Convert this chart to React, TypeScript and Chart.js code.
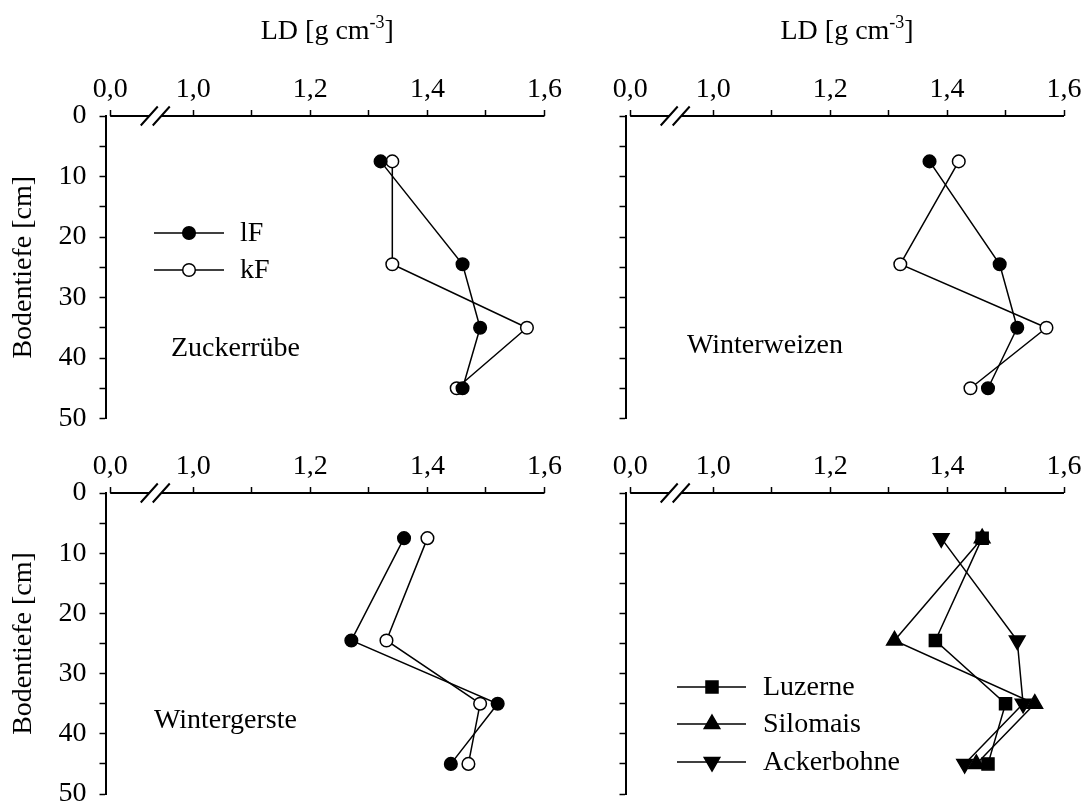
import React, { useEffect, useRef } from 'react';
import { Chart, registerables } from 'chart.js';

Chart.register(...registerables);

const PAGE_W = 1090;
const PAGE_H = 805;
const FONT = '"Liberation Serif", "Times New Roman", serif';
const FONT_SIZE = 28;
const SUP_SIZE = 18;

// Sampling depths (cm)
const DEPTHS = [7.5, 24.5, 35, 45];

// Lagerungsdichte LD [g cm-3] per depth
const ZUCKERRUEBE_LF = [1.32, 1.46, 1.49, 1.46];
const ZUCKERRUEBE_KF = [1.34, 1.34, 1.57, 1.45];
const WINTERWEIZEN_LF = [1.37, 1.49, 1.52, 1.47];
const WINTERWEIZEN_KF = [1.42, 1.32, 1.57, 1.44];
const WINTERGERSTE_LF = [1.36, 1.27, 1.52, 1.44];
const WINTERGERSTE_KF = [1.4, 1.33, 1.49, 1.47];
const LUZERNE = [1.46, 1.38, 1.5, 1.47];
const SILOMAIS = [1.46, 1.31, 1.55, 1.45];
const ACKERBOHNE = [1.39, 1.52, 1.53, 1.43];

// Broken LD axis: the "0,0" tick sits in a slot left of the break, 1.0–1.6 is to scale
const X_ZERO_SLOT = 0.858;
const X_BREAK = 0.935;
const X_MIN = 0.85;
const X_MAX = 1.6;
const X_TICKS = [X_ZERO_SLOT, 1.0, 1.1, 1.2, 1.3, 1.4, 1.5, 1.6];
const Y_MIN = 0;
const Y_MAX = 50;
const Y_TICKS = [0, 5, 10, 15, 20, 25, 30, 35, 40, 45, 50];

const AXIS_W = 60;
const AXIS_H = 45;

type MarkerStyle = 'circle' | 'rect' | 'triangle' | 'triangleDown';

interface Series {
  label: string;
  values: number[];
  style: MarkerStyle;
  fill: string;
  radius: number;
}

interface PanelDef {
  area: { left: number; top: number; right: number; bottom: number };
  xTitle: boolean;
  yTitle: boolean;
  yLabels: boolean;
  name: { text: string; x: number; y: number };
  legend: { x0: number; x1: number; mx: number; tx: number; rows: number[] } | null;
  series: Series[];
}

const lF = (values: number[]): Series => ({ label: 'lF', values, style: 'circle', fill: '#000', radius: 6.3 });
const kF = (values: number[]): Series => ({ label: 'kF', values, style: 'circle', fill: '#fff', radius: 6.3 });

const PANELS: PanelDef[] = [
  {
    area: { left: 105.5, top: 116, right: 544.5, bottom: 418.5 },
    xTitle: true,
    yTitle: true,
    yLabels: true,
    name: { text: 'Zuckerrübe', x: 171, y: 356 },
    legend: { x0: 154, x1: 224, mx: 189, tx: 240, rows: [233, 270] },
    series: [lF(ZUCKERRUEBE_LF), kF(ZUCKERRUEBE_KF)],
  },
  {
    area: { left: 625.5, top: 116, right: 1064, bottom: 418.5 },
    xTitle: true,
    yTitle: false,
    yLabels: false,
    name: { text: 'Winterweizen', x: 687, y: 353 },
    legend: null,
    series: [lF(WINTERWEIZEN_LF), kF(WINTERWEIZEN_KF)],
  },
  {
    area: { left: 105.5, top: 493, right: 544.5, bottom: 794 },
    xTitle: false,
    yTitle: true,
    yLabels: true,
    name: { text: 'Wintergerste', x: 154, y: 728 },
    legend: null,
    series: [lF(WINTERGERSTE_LF), kF(WINTERGERSTE_KF)],
  },
  {
    area: { left: 625.5, top: 493, right: 1064, bottom: 794 },
    xTitle: false,
    yTitle: false,
    yLabels: false,
    name: { text: '', x: 0, y: 0 },
    legend: { x0: 677, x1: 746, mx: 712, tx: 763, rows: [687, 724, 762] },
    series: [
      { label: 'Luzerne', values: LUZERNE, style: 'rect', fill: '#000', radius: 8.5 },
      { label: 'Silomais', values: SILOMAIS, style: 'triangle', fill: '#000', radius: 9 },
      { label: 'Ackerbohne', values: ACKERBOHNE, style: 'triangleDown', fill: '#000', radius: 9 },
    ],
  },
];

function drawMarker(ctx: CanvasRenderingContext2D, style: MarkerStyle, x: number, y: number, r: number, fill: string) {
  ctx.beginPath();
  if (style === 'circle') {
    ctx.arc(x, y, r, 0, Math.PI * 2);
  } else if (style === 'rect') {
    const s = r * Math.SQRT1_2;
    ctx.rect(x - s, y - s, 2 * s, 2 * s);
  } else {
    const d = style === 'triangle' ? 1 : -1;
    ctx.moveTo(x, y - d * r);
    ctx.lineTo(x + 0.866 * r, y + d * 0.5 * r);
    ctx.lineTo(x - 0.866 * r, y + d * 0.5 * r);
    ctx.closePath();
  }
  ctx.fillStyle = fill;
  ctx.fill();
  ctx.lineWidth = 1.5;
  ctx.strokeStyle = '#000';
  ctx.stroke();
}

const panelDecor = {
  id: 'panelDecor',
  afterDraw(chart: any, _args: any, opts: any) {
    const def: PanelDef = opts.def;
    const { ctx } = chart;
    const xs = chart.scales.x;
    const ys = chart.scales.y;
    const axisY = ys.getPixelForValue(Y_MIN);
    const xStart = xs.getPixelForValue(X_ZERO_SLOT);
    const xEnd = xs.getPixelForValue(X_MAX);
    const xb = xs.getPixelForValue(X_BREAK);
    const gap = 6;

    ctx.save();
    // LD axis line with break
    ctx.strokeStyle = '#000';
    ctx.lineWidth = 2;
    ctx.beginPath();
    ctx.moveTo(xStart, axisY);
    ctx.lineTo(xb - gap, axisY);
    ctx.moveTo(xb + gap, axisY);
    ctx.lineTo(xEnd, axisY);
    ctx.stroke();
    ctx.beginPath();
    for (const dx of [-gap, gap]) {
      ctx.moveTo(xb + dx - 8.5, axisY + 9.5);
      ctx.lineTo(xb + dx + 8.5, axisY - 9.5);
    }
    ctx.stroke();

    ctx.fillStyle = '#000';
    const big = `${FONT_SIZE}px ${FONT}`;
    const small = `${SUP_SIZE}px ${FONT}`;

    // Axis title "LD [g cm-3]"
    if (def.xTitle) {
      const a = 'LD [g cm';
      const sup = '-3';
      const b = ']';
      ctx.font = big;
      const wa = ctx.measureText(a).width;
      const wb = ctx.measureText(b).width;
      ctx.font = small;
      const ws = ctx.measureText(sup).width;
      let x = (xStart + xEnd) / 2 - (wa + ws + wb) / 2;
      const base = 39;
      ctx.textAlign = 'left';
      ctx.textBaseline = 'alphabetic';
      ctx.font = big;
      ctx.fillText(a, x, base);
      x += wa;
      ctx.font = small;
      ctx.fillText(sup, x, base - 11);
      x += ws;
      ctx.font = big;
      ctx.fillText(b, x, base);
    }

    // Depth axis title
    if (def.yTitle) {
      const top = ys.getPixelForValue(Y_MIN);
      const bottom = ys.getPixelForValue(Y_MAX);
      ctx.save();
      ctx.translate(24, (top + bottom) / 2);
      ctx.rotate(-Math.PI / 2);
      ctx.font = big;
      ctx.textAlign = 'center';
      ctx.textBaseline = 'middle';
      ctx.fillText('Bodentiefe [cm]', 0, 0);
      ctx.restore();
    }

    // Crop name
    if (def.name.text) {
      ctx.font = big;
      ctx.textAlign = 'left';
      ctx.textBaseline = 'alphabetic';
      ctx.fillText(def.name.text, def.name.x, def.name.y);
    }

    // Legend
    if (def.legend) {
      const lg = def.legend;
      def.series.forEach((s, i) => {
        const y = lg.rows[i];
        ctx.beginPath();
        ctx.lineWidth = 1.5;
        ctx.strokeStyle = '#000';
        ctx.moveTo(lg.x0, y);
        ctx.lineTo(lg.x1, y);
        ctx.stroke();
        drawMarker(ctx, s.style, lg.mx, y, s.radius, s.fill);
        ctx.fillStyle = '#000';
        ctx.font = big;
        ctx.textAlign = 'left';
        ctx.textBaseline = 'middle';
        ctx.fillText(s.label, lg.tx, y + 1);
      });
    }
    ctx.restore();
  },
};

function xLabel(v: number): string {
  if (v === X_ZERO_SLOT) return '0,0';
  const tenths = Math.round(v * 10);
  return tenths % 2 === 0 ? (tenths / 10).toFixed(1).replace('.', ',') : '';
}

function buildConfig(def: PanelDef): any {
  const datasets = def.series.map((s) => ({
    label: s.label,
    data: s.values.map((v, i) => ({ x: v, y: DEPTHS[i] })),
    showLine: true,
    borderColor: '#000',
    borderWidth: 1.5,
    pointStyle: s.style === 'triangleDown' ? 'triangle' : s.style,
    rotation: s.style === 'triangleDown' ? 180 : 0,
    pointRadius: s.radius,
    pointBackgroundColor: s.fill,
    pointBorderColor: '#000',
    pointBorderWidth: 1.5,
    clip: false,
  }));
  return {
    type: 'scatter',
    data: { datasets },
    plugins: [panelDecor],
    options: {
      responsive: false,
      animation: false,
      events: [],
      layout: {
        padding: {
          left: def.area.left - AXIS_W,
          top: def.area.top - AXIS_H,
          right: PAGE_W - def.area.right,
          bottom: PAGE_H - def.area.bottom,
        },
      },
      plugins: {
        legend: { display: false },
        tooltip: { enabled: false },
        panelDecor: { def },
      },
      scales: {
        x: {
          type: 'linear',
          position: 'top',
          min: X_MIN,
          max: X_MAX,
          afterBuildTicks: (s: any) => {
            s.ticks = X_TICKS.map((v) => ({ value: v }));
          },
          afterFit: (s: any) => {
            s.height = AXIS_H;
            s.paddingLeft = 0;
            s.paddingRight = 0;
            s.paddingTop = 0;
            s.paddingBottom = 0;
          },
          ticks: {
            autoSkip: false,
            maxRotation: 0,
            padding: 4,
            color: '#000',
            font: { family: FONT, size: FONT_SIZE },
            callback: (v: number) => xLabel(v),
          },
          grid: {
            drawOnChartArea: false,
            drawTicks: true,
            tickLength: 6,
            tickWidth: 1.5,
            tickColor: '#000',
          },
          border: { display: false },
        },
        y: {
          type: 'linear',
          position: 'left',
          reverse: true,
          min: Y_MIN,
          max: Y_MAX,
          afterBuildTicks: (s: any) => {
            s.ticks = Y_TICKS.map((v) => ({ value: v }));
          },
          afterFit: (s: any) => {
            s.width = AXIS_W;
            s.paddingLeft = 0;
            s.paddingRight = 0;
            s.paddingTop = 0;
            s.paddingBottom = 0;
          },
          ticks: {
            display: def.yLabels,
            autoSkip: false,
            padding: 13,
            color: '#000',
            font: { family: FONT, size: FONT_SIZE },
            callback: (v: number) => (v % 10 === 0 ? String(v) : ''),
          },
          grid: {
            drawOnChartArea: false,
            drawTicks: true,
            tickLength: 6,
            tickWidth: 1.5,
            tickColor: '#000',
          },
          border: { display: true, color: '#000', width: 2 },
        },
      },
    },
  };
}

function Panel({ def }: { def: PanelDef }) {
  const ref = useRef<HTMLCanvasElement>(null);
  useEffect(() => {
    if (!ref.current) return;
    const chart = new Chart(ref.current, buildConfig(def));
    return () => chart.destroy();
  }, [def]);
  return (
    <canvas
      ref={ref}
      width={PAGE_W}
      height={PAGE_H}
      style={{ position: 'absolute', left: 0, top: 0 }}
    />
  );
}

export default function App() {
  return (
    <div
      style={{
        position: 'fixed',
        left: 0,
        top: 0,
        width: PAGE_W,
        height: PAGE_H,
        background: '#fff',
        overflow: 'hidden',
      }}
    >
      {PANELS.map((p, i) => (
        <Panel key={i} def={p} />
      ))}
    </div>
  );
}
